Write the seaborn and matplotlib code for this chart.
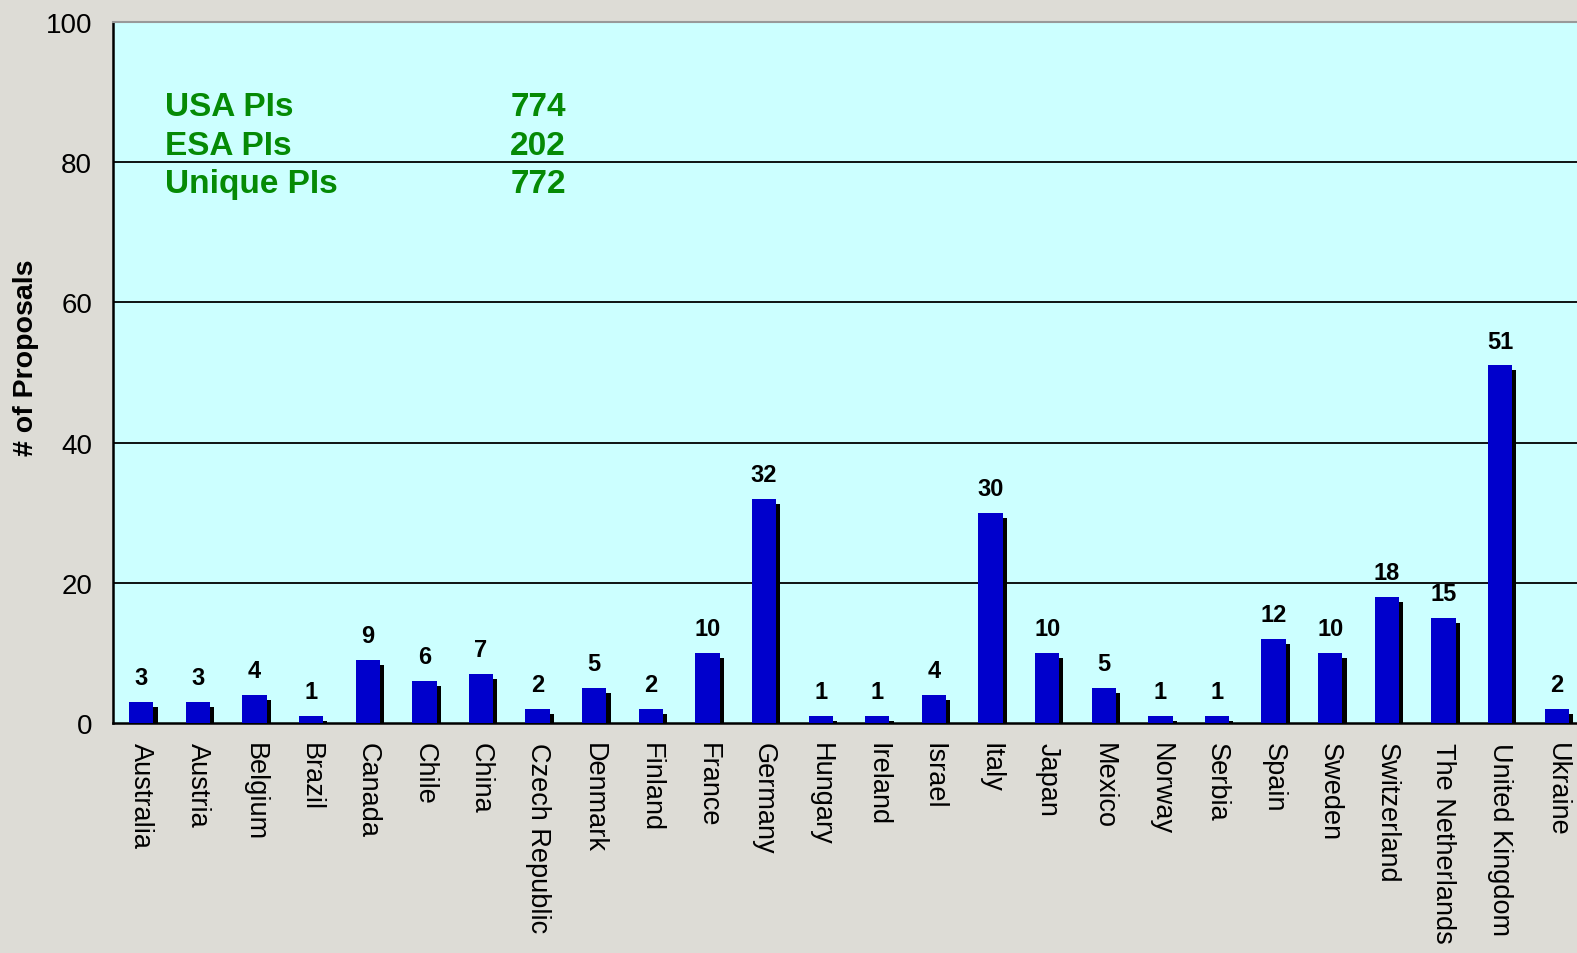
"""Proposals per country, bar chart with drop shadow."""

import numpy as np
import pandas as pd
import matplotlib
matplotlib.use("Agg")
import matplotlib.pyplot as plt
import matplotlib.patheffects as pe
import seaborn as sns

countries = ["Australia", "Austria", "Belgium", "Brazil", "Canada", "Chile", "China",
             "Czech Republic", "Denmark", "Finland", "France", "Germany", "Hungary",
             "Ireland", "Israel", "Italy", "Japan", "Mexico", "Norway", "Serbia", "Spain",
             "Sweden", "Switzerland", "The Netherlands", "United Kingdom", "Ukraine"]
proposals = [3, 3, 4, 1, 9, 6, 7, 2, 5, 2, 10, 32, 1, 1, 4, 30, 10, 5, 1, 1, 12, 10, 18, 15, 51, 2]

stat_labels = ["USA PIs", "ESA PIs", "Unique PIs"]
stat_values = [774, 202, 772]

df = pd.DataFrame({"Country": countries, "Proposals": proposals})

sns.set_style("white")
plt.rcParams["font.family"] = ["Liberation Sans", "DejaVu Sans"]
plt.rcParams["text.color"] = "black"
plt.rcParams["xtick.color"] = "black"
plt.rcParams["ytick.color"] = "black"
plt.rcParams["axes.labelcolor"] = "black"

BG = "#dddcd6"
FACE = "#ccffff"
BAR = "#0000cc"
GREEN = "#058a05"

fig = plt.figure(figsize=(15.77, 9.54), dpi=100, facecolor=BG)
ax = fig.add_axes([113 / 1577, 1 - 724 / 954, 1472 / 1577, 701 / 954])
ax.set_facecolor(FACE)

sns.barplot(data=df, x="Country", y="Proposals", color=BAR, width=0.43,
            saturation=1, linewidth=0, edgecolor=BAR, ax=ax, zorder=3)
for patch in ax.patches:
    patch.set_path_effects([
        pe.SimplePatchShadow(offset=(3, -3.6), shadow_rgbFace="black", alpha=1.0),
        pe.Normal(),
    ])

for i, v in enumerate(proposals):
    ax.annotate(str(v), (i, v), xytext=(0, 9), textcoords="offset points",
                ha="center", va="bottom", fontsize=17, fontweight="bold", color="black")

ax.set_xlim(-0.5, len(countries) - 0.5)
ax.set_ylim(0, 100)
ax.set_yticks([0, 20, 40, 60, 80, 100])
for y in [20, 40, 60, 80]:
    ax.axhline(y, color="black", lw=1.3, zorder=1)

ax.set_xticks(np.arange(len(countries)))
ax.set_xticklabels(countries, rotation=-90, fontsize=19.5, va="top", ha="center")
ax.set_xticks(np.arange(len(countries) + 1) - 0.5, minor=True)
ax.tick_params(axis="x", which="major", length=0, pad=14)
ax.tick_params(axis="x", which="minor", length=7, width=1.5, direction="out")
ax.tick_params(axis="y", length=7, width=1.5, direction="out", labelsize=20, pad=8)
ax.set_xlabel("")
ax.set_ylabel("# of Proposals", fontsize=20.5, fontweight="bold")
ax.yaxis.set_label_coords(-0.0505, 0.523)

for side in ["left", "bottom"]:
    ax.spines[side].set_color("black")
    ax.spines[side].set_linewidth(1.8)
ax.spines["top"].set_color("#999999")
ax.spines["top"].set_linewidth(1.5)
ax.spines["right"].set_visible(False)

ys = [0.879, 0.824, 0.769]
for lab, val, y in zip(stat_labels, stat_values, ys):
    ax.text(0.0353, y, lab, transform=ax.transAxes, color=GREEN, fontsize=24,
            fontweight="bold", va="center", ha="left")
    ax.text(0.2698, y, str(val), transform=ax.transAxes, color=GREEN, fontsize=24,
            fontweight="bold", va="center", ha="left")

plt.savefig("out.png", dpi=100, facecolor=BG)
plt.close()
